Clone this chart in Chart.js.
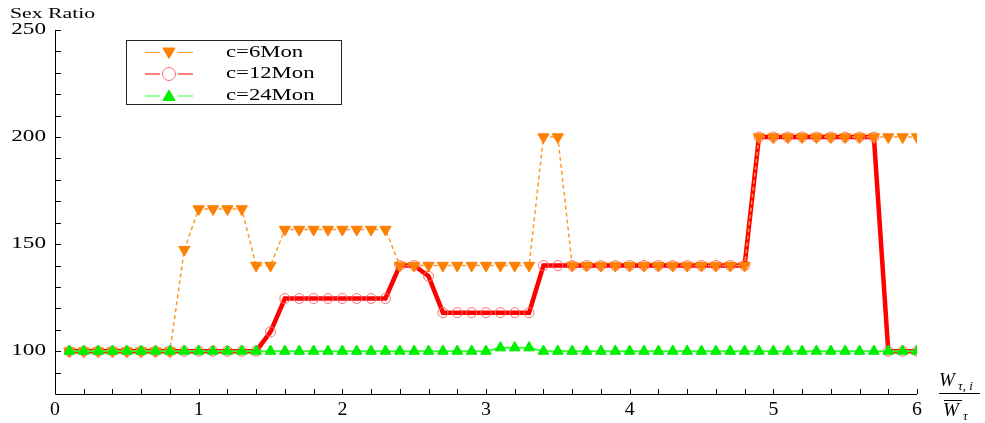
<!DOCTYPE html>
<html>
<head>
<meta charset="utf-8">
<script src="https://cdn.jsdelivr.net/npm/chart.js@4.4.1/dist/chart.umd.min.js"></script>
<style>
  body { margin: 0; background: #fff; }
  #myChart { display: block; }
</style>
</head>
<body>
<canvas id="myChart" width="985" height="423"></canvas>
<script>
// x values (W_tau,i / mean W_tau)
const xVals = [0.1, 0.2, 0.3, 0.4, 0.5, 0.6, 0.7, 0.8, 0.9, 1.0,
  1.1, 1.2, 1.3, 1.4, 1.5, 1.6, 1.7, 1.8, 1.9, 2.0,
  2.1, 2.2, 2.3, 2.4, 2.5, 2.6, 2.7, 2.8, 2.9, 3.0,
  3.1, 3.2, 3.3, 3.4, 3.5, 3.6, 3.7, 3.8, 3.9, 4.0,
  4.1, 4.2, 4.3, 4.4, 4.5, 4.6, 4.7, 4.8, 4.9, 5.0,
  5.1, 5.2, 5.3, 5.4, 5.5, 5.6, 5.7, 5.8, 5.9, 6.0];

const c6 = [100, 100, 100, 100, 100, 100, 100, 100, 147.4, 166.4,
  166.4, 166.4, 166.4, 140, 140, 156.8, 156.8, 156.8, 156.8, 156.8,
  156.8, 156.8, 156.8, 140, 140, 140, 140, 140, 140, 140,
  140, 140, 140, 200, 200, 140, 140, 140, 140, 140,
  140, 140, 140, 140, 140, 140, 140, 140, 200, 200,
  200, 200, 200, 200, 200, 200, 200, 200, 200, 200];

const c12 = [100, 100, 100, 100, 100, 100, 100, 100, 100, 100,
  100, 100, 100, 100, 109, 124.6, 124.6, 124.6, 124.6, 124.6,
  124.6, 124.6, 124.6, 140, 140, 135, 118, 118, 118, 118,
  118, 118, 118, 140, 140, 140, 140, 140, 140, 140,
  140, 140, 140, 140, 140, 140, 140, 140, 200, 200,
  200, 200, 200, 200, 200, 200, 200, 100, 100, 100];

const c24 = [100, 100, 100, 100, 100, 100, 100, 100, 100, 100,
  100, 100, 100, 100, 100, 100, 100, 100, 100, 100,
  100, 100, 100, 100, 100, 100, 100, 100, 100, 100,
  101.6, 101.6, 101.6, 100, 100, 100, 100, 100, 100, 100,
  100, 100, 100, 100, 100, 100, 100, 100, 100, 100,
  100, 100, 100, 100, 100, 100, 100, 100, 100, 100];

const seriesNames = ['c=6Mon', 'c=12Mon', 'c=24Mon'];
const xTicks = [0, 1, 2, 3, 4, 5, 6];
const xMinorTicks = [0.2, 0.4, 0.6, 0.8, 1.2, 1.4, 1.6, 1.8, 2.2, 2.4, 2.6, 2.8,
  3.2, 3.4, 3.6, 3.8, 4.2, 4.4, 4.6, 4.8, 5.2, 5.4, 5.6, 5.8];
const yTicks = [100, 150, 200, 250];
const yMinorTicks = [90, 110, 120, 130, 140, 160, 170, 180, 190, 210, 220, 230, 240];

const toPoints = ys => xVals.map((x, i) => ({ x: x, y: ys[i] }));

// stretched serif text, the original figure is wide
function wideText(ctx, text, x, y, align, font, sx) {
  ctx.save();
  ctx.font = font;
  ctx.translate(x, y);
  ctx.scale(sx, 1);
  ctx.textAlign = align;
  ctx.textBaseline = 'middle';
  ctx.fillStyle = '#000';
  ctx.fillText(text, 0, 0);
  ctx.restore();
}

const axesPlugin = {
  id: 'axesPlugin',
  afterDraw(chart) {
    const ctx = chart.ctx;
    const xs = chart.scales.x;
    const ys = chart.scales.y;
    const a = chart.chartArea;
    ctx.save();
    ctx.strokeStyle = '#000';
    ctx.lineWidth = 1;
    ctx.beginPath();
    ctx.moveTo(a.left + 0.5, ys.getPixelForValue(250));
    ctx.lineTo(a.left + 0.5, a.bottom + 0.5);
    ctx.lineTo(xs.getPixelForValue(6), a.bottom + 0.5);
    // y ticks, inward
    yTicks.concat(yMinorTicks).forEach(v => {
      const py = Math.round(ys.getPixelForValue(v)) + 0.5;
      ctx.moveTo(a.left, py);
      ctx.lineTo(a.left + 6, py);
    });
    xTicks.concat(xMinorTicks).forEach(v => {
      const px = Math.round(xs.getPixelForValue(v)) + 0.5;
      ctx.moveTo(px, a.bottom);
      ctx.lineTo(px, a.bottom - 5);
    });
    ctx.stroke();
    ctx.restore();

    yTicks.forEach(v => {
      wideText(ctx, String(v), a.left - 9, ys.getPixelForValue(v), 'right', '16px "Liberation Serif"', 1.45);
    });
    xTicks.forEach(v => {
      wideText(ctx, String(v), xs.getPixelForValue(v), a.bottom + 16, 'center', '18px "Liberation Serif"', 1.1);
    });
    wideText(ctx, 'Sex Ratio', 10, 14, 'left', '15px "Liberation Serif"', 1.45);

    // x axis title as a fraction
    ctx.save();
    ctx.fillStyle = '#000';
    ctx.textBaseline = 'alphabetic';
    ctx.font = 'italic 19px "Liberation Serif"';
    ctx.fillText('W', 939, 386);
    ctx.fillText('W', 943, 416);
    ctx.font = 'italic 13px "Liberation Serif"';
    ctx.fillText('\u03c4, i', 958, 390);
    ctx.fillText('\u03c4', 963, 420);
    ctx.strokeStyle = '#000';
    ctx.lineWidth = 1;
    ctx.beginPath();
    ctx.moveTo(939, 393.5);
    ctx.lineTo(980, 393.5);
    ctx.moveTo(944, 400.5);
    ctx.lineTo(962, 400.5);
    ctx.stroke();
    ctx.restore();
  }
};

const legendPlugin = {
  id: 'boxLegend',
  afterDraw(chart) {
    const ctx = chart.ctx;
    const left = 126.5, top = 40.5, w = 215, h = 64;
    ctx.save();
    ctx.strokeStyle = '#222';
    ctx.lineWidth = 1;
    ctx.strokeRect(left, top, w, h);
    const rows = [52.5, 74, 96];
    const order = [0, 1, 2];
    order.forEach((di, r) => {
      const ds = chart.data.datasets[di];
      const y = rows[r];
      ctx.strokeStyle = ds.borderColor;
      ctx.lineWidth = 1.2;
      ctx.beginPath();
      ctx.moveTo(145, y);
      ctx.lineTo(160, y);
      ctx.moveTo(178, y);
      ctx.lineTo(193, y);
      ctx.stroke();
      ctx.fillStyle = ds.pointBackgroundColor;
      ctx.strokeStyle = ds.pointBorderColor;
      ctx.lineWidth = ds.pointBorderWidth;
      Chart.helpers.drawPoint(ctx, {
        pointStyle: ds.pointStyle,
        rotation: ds.rotation || 0,
        radius: ds.pointStyle === 'circle' ? 6.5 : 7,
        borderWidth: ds.pointBorderWidth
      }, 169, ds.pointStyle === 'triangle' ? y + (ds.rotation ? -1 : 1) : y);
      wideText(ctx, seriesNames[di], 226, y, 'left', '16px "Liberation Serif"', 1.42);
    });
    ctx.restore();
  }
};

const ctx1 = document.getElementById('myChart');

new Chart(ctx1, {
  type: 'line',
  data: {
    datasets: [{
      label: seriesNames[0],
      data: toPoints(c6),
      borderColor: '#ff9a2e',
      borderWidth: 1.5,
      borderDash: [4, 3],
      pointStyle: 'triangle',
      rotation: 180,
      pointRadius: 6.5,
      pointBackgroundColor: '#ff8000',
      pointBorderColor: '#ff8000',
      pointBorderWidth: 1,
      order: 1
    }, {
      label: seriesNames[1],
      data: toPoints(c12),
      borderColor: '#ff0000',
      borderWidth: 4.5,
      pointStyle: 'circle',
      pointRadius: 5,
      pointBackgroundColor: 'rgba(255,255,255,0)',
      pointBorderColor: '#ff6b6b',
      pointBorderWidth: 1,
      order: 2
    }, {
      label: seriesNames[2],
      data: toPoints(c24),
      borderColor: '#33ff33',
      borderWidth: 2,
      pointStyle: 'triangle',
      pointRadius: 6.2,
      pointBackgroundColor: '#00ee00',
      pointBorderColor: '#00ee00',
      pointBorderWidth: 1,
      order: 0
    }]
  },
  options: {
    responsive: false,
    animation: false,
    events: [],
    layout: { padding: { left: 55, right: 68, top: 30, bottom: 29 } },
    scales: {
      x: { type: 'linear', min: 0, max: 6, display: false },
      y: { type: 'linear', min: 80, max: 250, display: false }
    },
    plugins: {
      legend: { display: false },
      tooltip: { enabled: false }
    }
  },
  plugins: [axesPlugin, legendPlugin]
});
</script>
</body>
</html>
